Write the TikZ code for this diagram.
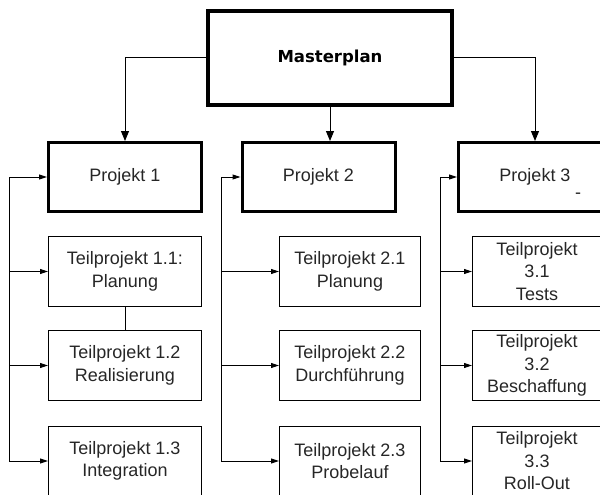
\documentclass[tikz,border=0pt]{standalone}
\usepackage{fontspec}
\setmainfont{Liberation Sans}
\newfontfamily\mastfont{DejaVu Sans}
\usetikzlibrary{arrows.meta}

\begin{document}
\begin{tikzpicture}[x=1pt, y=-1pt,
  every node/.style={font=\fontsize{18}{22.5}\selectfont, text=black!85, align=center},
  master/.style={draw, line width=4pt, minimum width=244pt, minimum height=94pt,
    font=\mastfont\fontsize{16.5}{20}\selectfont\bfseries, text=black},
  proj/.style={draw, line width=3pt, minimum width=153pt, minimum height=69pt},
  teil/.style={draw, line width=1pt, minimum height=70pt, inner sep=0pt},
  link/.style={line width=1pt, -{Triangle[length=10pt, width=8pt]}},
  back/.style={line width=1pt, -{Triangle[length=8pt, width=5pt]}}]
  \useasboundingbox (0,0) rectangle (600,495);

  % Masterplan on top
  \node[master] (mp) at (330,58) {Masterplan};

  % Project row
  \node[proj] (p1) at (125,177) {Projekt 1};
  \node[proj] (p2) at (318.5,177) {Projekt 2};
  \node[proj] (p3) at (535,177) {Projekt 3};
  \node (p3mark) at (578,196) {-};

  % Subprojects of project 1
  \node[teil, minimum width=153pt] (t11) at (125,271.5) {Teilprojekt 1.1:\\Planung};
  \node[teil, minimum width=153pt] (t12) at (125,365.5) {Teilprojekt 1.2\\Realisierung};
  \node[teil, minimum width=153pt] (t13) at (125,461) {Teilprojekt 1.3\\Integration};

  % Subprojects of project 2
  \node[teil, minimum width=141pt] (t21) at (350,271.5) {Teilprojekt 2.1\\Planung};
  \node[teil, minimum width=141pt] (t22) at (350,365.5) {Teilprojekt 2.2\\Durchführung};
  \node[teil, minimum width=141pt] (t23) at (350,461) {Teilprojekt 2.3\\Probelauf};

  % Subprojects of project 3
  \node[teil, minimum width=129pt] (t31) at (537,271.5) {Teilprojekt\\3.1\\Tests};
  \node[teil, minimum width=129pt] (t32) at (537,365.5) {Teilprojekt\\3.2\\Beschaffung};
  \node[teil, minimum width=129pt] (t33) at (537,461) {Teilprojekt\\3.3\\Roll-Out};

  % Masterplan to projects
  \draw[link] (mp.west) -| (p1.north);
  \draw[link] (mp.south) -- (mp.south |- p2.north);
  \draw[link] (mp.east) -| (p3.north);

  \draw[line width=1pt] (t11.south) -- (t12.north);

  % Feedback lines on the left of each column
  \coordinate (s1) at (9,177);
  \coordinate (s2) at (221,177);
  \coordinate (s3) at (440,177);
  \draw[back] (s1 |- t13.west) |- (p1.west);
  \draw[back] (s2 |- t23.west) |- (p2.west);
  \draw[back] (s3 |- t33.west) |- (p3.west);
  \foreach \n in {t11,t12,t13} \draw[back] (s1 |- \n.west) -- (\n.west);
  \foreach \n in {t21,t22,t23} \draw[back] (s2 |- \n.west) -- (\n.west);
  \foreach \n in {t31,t32,t33} \draw[back] (s3 |- \n.west) -- (\n.west);
\end{tikzpicture}
\end{document}
